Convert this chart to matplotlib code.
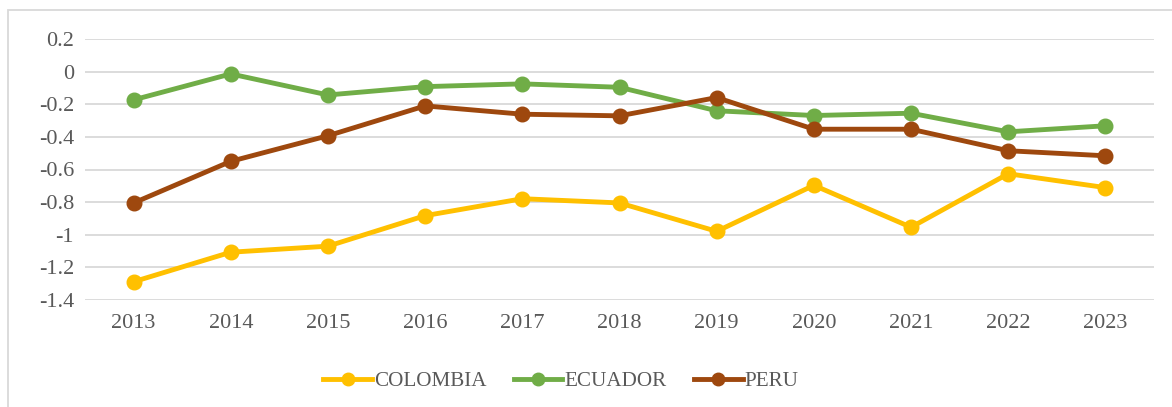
import matplotlib.pyplot as plt
from matplotlib.patches import Rectangle

years = ['2013', '2014', '2015', '2016', '2017', '2018', '2019', '2020', '2021', '2022', '2023']
colombia = [-1.288, -1.107, -1.07, -0.883, -0.779, -0.805, -0.979, -0.697, -0.954, -0.626, -0.711]
ecuador = [-0.173, -0.014, -0.143, -0.092, -0.075, -0.096, -0.24, -0.269, -0.255, -0.369, -0.332]
peru = [-0.805, -0.55, -0.393, -0.21, -0.261, -0.271, -0.159, -0.353, -0.353, -0.485, -0.516]

plt.rcParams['font.family'] = ['Liberation Serif', 'DejaVu Serif']
text_color = '#595959'

fig = plt.figure(figsize=(11.72, 4.07), dpi=100)
ax = fig.add_axes([85 / 1172, 1 - 300 / 407, (1154 - 85) / 1172, (300 - 39) / 407])

x = range(len(years))
ax.plot(x, colombia, '-o', color='#FFC000', lw=3.5, ms=10.5, label='COLOMBIA', zorder=3)
ax.plot(x, ecuador, '-o', color='#70AD47', lw=3.5, ms=10.5, label='ECUADOR', zorder=3)
ax.plot(x, peru, '-o', color='#9E480E', lw=3.5, ms=10.5, label='PERU', zorder=3)

ax.set_xlim(-0.5, len(years) - 0.5)
ax.set_ylim(-1.4, 0.2)
yticks = [0.2, 0, -0.2, -0.4, -0.6, -0.8, -1, -1.2, -1.4]
ax.set_yticks(yticks)
ax.set_yticklabels(['0.2', '0', '-0.2', '-0.4', '-0.6', '-0.8', '-1', '-1.2', '-1.4'])
ax.set_xticks(list(x))
ax.set_xticklabels(years)
ax.tick_params(length=0, labelsize=16, colors=text_color)
ax.tick_params(axis='x', pad=10)
ax.tick_params(axis='y', pad=8)
ax.grid(axis='y', color='#D9D9D9', lw=1.3)
ax.set_axisbelow(True)
for s in ax.spines.values():
    s.set_visible(False)

leg = fig.legend(loc='center', bbox_to_anchor=(561 / 1172, 1 - 381 / 407), ncol=3, frameon=False,
                 fontsize=15.2, handlelength=2.3, columnspacing=1.3, handletextpad=0.1,
                 labelcolor=text_color)
for h in leg.legend_handles:
    h.set_markersize(9)

# chart border (cropped on right and bottom)
fig.patches.append(Rectangle((8 / 1172, -0.1), 1.2, 1 - 10 / 407 + 0.1,
                             transform=fig.transFigure, fill=False,
                             edgecolor='#D9D9D9', lw=1.3))

fig.savefig('out.png', dpi=100)
